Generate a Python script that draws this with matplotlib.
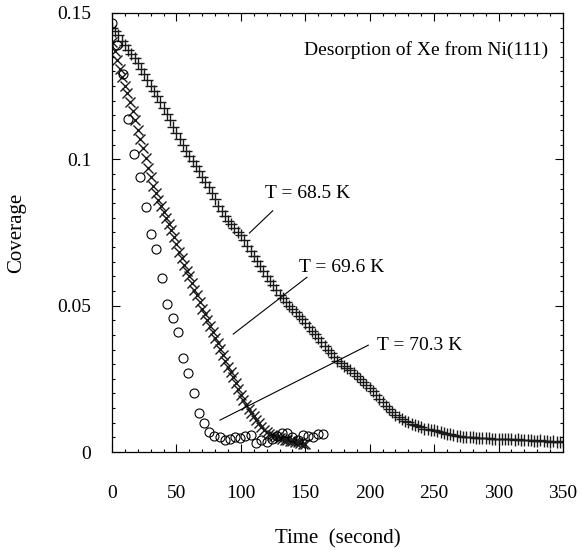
import numpy as np
import matplotlib
matplotlib.use("Agg")
import matplotlib.pyplot as plt
from matplotlib.ticker import MultipleLocator, FuncFormatter

plt.rcParams['font.family'] = ['Liberation Serif', 'DejaVu Serif']

# T = 68.5 K, sampled every 2.5 s
t_685 = np.arange(0, 350.1, 2.5)
cov_685 = [
    .1450, .1440, .1425, .1405, .1390, .1375, .1360, .1345, .1330, .1310,
    .1290, .1270, .1250, .1232, .1215, .1195, .1175, .1155, .1135, .1112,
    .1090, .1070, .1050, .1030, .1010, .0995, .0978, .0960, .0940, .0922,
    .0905, .0885, .0865, .0840, .0822, .0805, .0790, .0778, .0765, .0752,
    .0740, .0725, .0705, .0688, .0670, .0652, .0635, .0618, .0600, .0585,
    .0570, .0552, .0535, .0525, .0512, .0500, .0488, .0478, .0465, .0455,
    .0440, .0428, .0415, .0402, .0388, .0375, .0362, .0350, .0338, .0325,
    .0312, .0305, .0295, .0288, .0280, .0270, .0260, .0250, .0240, .0228,
    .0218, .0208, .0195, .0182, .0170, .0158, .0146, .0138, .0128, .0120,
    .0113, .0106, .0102, .0096, .0092, .0088, .0084, .0080, .0078, .0076,
    .0074, .0071, .0068, .0066, .0062, .0060, .0058, .0056, .0054, .0053,
    .0052, .0051, .0050, .0049, .0049, .0048, .0047, .0047, .0046, .0045,
    .0045, .0044, .0044, .0046, .0043, .0042, .0043, .0041, .0040, .0042,
    .0040, .0039, .0038, .0040, .0037, .0036, .0035, .0037, .0035, .0034,
    .0036,
]

# T = 69.6 K, sampled every 2 s
t_696 = np.arange(0, 150.1, 2)
cov_696 = [
    .1400, .1370, .1340, .1310, .1280, .1250, .1225, .1195, .1165, .1135,
    .1100, .1070, .1040, .1005, .0970, .0940, .0910, .0885, .0862, .0840,
    .0820, .0800, .0780, .0758, .0735, .0710, .0685, .0662, .0640, .0620,
    .0600, .0578, .0555, .0535, .0512, .0490, .0470, .0450, .0430, .0410,
    .0390, .0372, .0352, .0332, .0312, .0292, .0275, .0255, .0236, .0215,
    .0195, .0177, .0162, .0148, .0135, .0122, .0110, .0098, .0086, .0076,
    .0068, .0062, .0058, .0054, .0050, .0048, .0045, .0042, .0040, .0038,
    .0036, .0035, .0033, .0030, .0028, .0027,
]

# T = 70.3 K
t_703 = [0, 4, 8.5, 12.7, 17, 21.5, 26, 30, 34.5, 38.5, 42.5, 47, 51, 55, 59,
         63.5, 67.5, 71.5, 75.5, 79.5, 83.5, 87.5, 91.5, 95.5, 99.5, 103.5,
         108, 112, 116, 120, 124, 128, 132, 136, 140, 144, 148, 152, 156,
         160, 164]
cov_703 = [.1465, .1390, .1290, .1139, .1017, .0938, .0837, .0746, .0692,
           .0593, .0505, .0458, .0411, .0320, .0271, .0200, .0132, .0098,
           .0069, .0055, .0050, .0041, .0045, .0050, .0047, .0055, .0058,
           .0030, .0042, .0035, .0046, .0056, .0064, .0066, .0050, .0040,
           .0058, .0054, .0052, .0060, .0062]

fig = plt.figure(figsize=(5.84, 5.53), dpi=100)
ax = fig.add_axes([0.1918, 0.1826, 0.7722, 0.794])

ax.plot(t_685, cov_685, ls='none', marker='+', ms=9, mew=1.0, color='#1a1a1a')
ax.plot(t_696, cov_696, ls='none', marker='x', ms=7.5, mew=1.0, color='#1a1a1a')
ax.plot(t_703, cov_703, ls='none', marker='o', ms=6.5, mew=0.8,
        mfc='none', mec='black')

ax.set_xlim(0, 350)
ax.set_ylim(0, 0.15)
ax.xaxis.set_major_locator(MultipleLocator(50))
ax.xaxis.set_minor_locator(MultipleLocator(10))
ax.yaxis.set_major_locator(MultipleLocator(0.05))
ax.yaxis.set_minor_locator(MultipleLocator(0.005))
ax.yaxis.set_major_formatter(FuncFormatter(lambda v, p: '%g' % round(v, 3)))
ax.tick_params(which='both', direction='in', top=True, right=True, width=0.8)
ax.tick_params(which='major', length=6)
ax.tick_params(which='minor', length=2.5)
ax.tick_params(axis='x', which='major', pad=24, labelsize=14)
ax.tick_params(axis='y', which='major', pad=15, labelsize=14)
for s in ax.spines.values():
    s.set_linewidth(0.9)

ax.set_xlabel('Time  (second)', fontsize=15)
ax.set_ylabel('Coverage', fontsize=15)
ax.xaxis.set_label_coords(0.5, -0.175)
ax.yaxis.set_label_coords(-0.19, 0.5)

ax.text(338.4, 0.1355, 'Desorption of Xe from Ni(111)', fontsize=14,
        ha='right', va='baseline')

ax.text(118.7, 0.0869, 'T = 68.5 K', fontsize=14, va='baseline')
ax.plot([106.6, 124.7], [0.0748, 0.0824], color='black', lw=0.8)
ax.text(145.1, 0.0615, 'T = 69.6 K', fontsize=14, va='baseline')
ax.plot([94.1, 151.3], [0.0403, 0.0597], color='black', lw=0.8)
ax.text(205.6, 0.0350, 'T = 70.3 K', fontsize=14, va='baseline')
ax.plot([83.8, 198.9], [0.0109, 0.0365], color='black', lw=0.8)

fig.savefig('out.png', dpi=100)
